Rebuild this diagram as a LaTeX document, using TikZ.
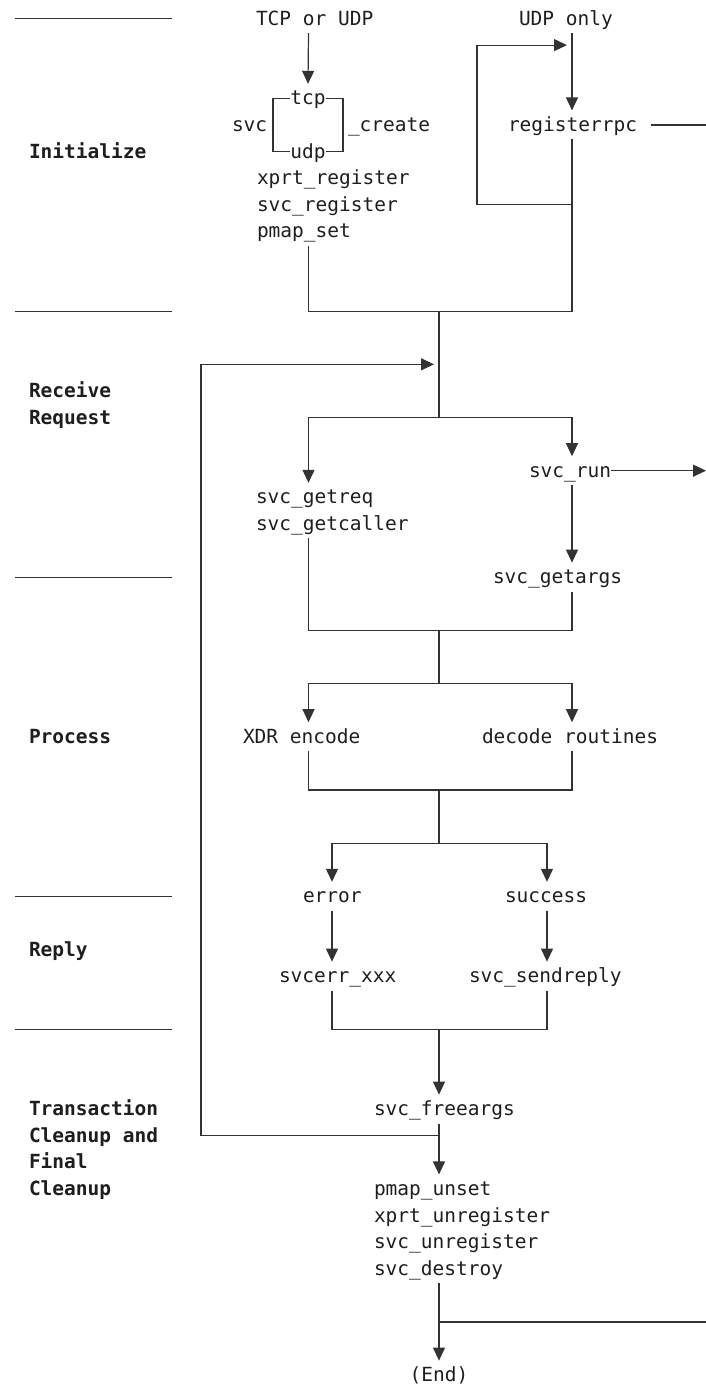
\documentclass[tikz,border=0pt]{standalone}
\usepackage{fontspec}
\newfontfamily\mono{DejaVu Sans Mono}
\usetikzlibrary{arrows.meta}
\definecolor{lncol}{HTML}{333333}
\definecolor{txcol}{HTML}{1E1E1E}
\begin{document}
\begin{tikzpicture}[x=1pt,y=-1pt,
  txt/.style={inner sep=0pt, outer sep=0pt, text height=21pt, text depth=8pt,
              anchor=base west, font=\mono\fontsize{19.5}{20}\selectfont, text=txcol},
  txtc/.style={txt, anchor=base},
  lbl/.style={txt, font=\mono\bfseries\fontsize{19.5}{20}\selectfont},
  sepline/.style={draw=lncol, line width=1.2pt},
  wire/.style={draw=lncol, line width=1.2pt},
  arr/.style={wire, -{Triangle[length=13pt,width=12pt]}}
]
\useasboundingbox (0,0) rectangle (706,1387);

% column coordinates
\coordinate (cA) at (308.5,0);
\coordinate (cR) at (572,0);
\coordinate (cM) at (439,0);
\coordinate (cL) at (308.5,0);
\coordinate (cRt) at (572,0);
\coordinate (cEL) at (332,0);
\coordinate (cER) at (547,0);
\coordinate (bL) at (273,0);
\coordinate (bR) at (343,0);
\coordinate (rEdge) at (706,0);

% section separators
\foreach \yy in {18.5,311.1,577.1,896.3,1029.3}
  \draw[sepline] (15,\yy) -- (172,\yy);

% section labels
\node[lbl] (lInit) at (29,158) {Initialize};
\node[lbl] (lRecv) at (29,397.4) {Receive};
\node[lbl] (lReq) at (29,424) {Request};
\node[lbl] (lProc) at (29,743.2) {Process};
\node[lbl] (lReply) at (29,956) {Reply};
\node[lbl] (lTrans) at (29,1115.6) {Transaction};
\node[lbl] (lClean) at (29,1142.2) {Cleanup and};
\node[lbl] (lFinal) at (29,1168.8) {Final};
\node[lbl] (lClean2) at (29,1195.4) {Cleanup};

% text nodes
\node[txt] (tcpudp) at (256,25) {TCP or UDP};
\node[txt] (udponly) at (519,25) {UDP only};
\node[txtc] (tcp) at (308,104.8) {tcp};
\node[txt] (svc) at (232,131.4) {svc};
\node[txt] (create) at (348,131.4) {\_create};
\node[txt] (registerrpc) at (508,131.4) {registerrpc};
\node[txtc] (udp) at (308,158) {udp};
\node[txt] (xprtreg) at (257,184.6) {xprt\_register};
\node[txt] (svcreg) at (257,211.2) {svc\_register};
\node[txt] (pmapset) at (257,237.8) {pmap\_set};
\node[txt] (svcrun) at (529,477.2) {svc\_run};
\node[txt] (getreq) at (256,503.8) {svc\_getreq};
\node[txt] (getcaller) at (256,530.4) {svc\_getcaller};
\node[txt] (getargs) at (493,583.6) {svc\_getargs};
\node[txt] (xdr) at (243,743.2) {XDR encode};
\node[txt] (decode) at (482,743.2) {decode routines};
\node[txt] (error) at (303,902.8) {error};
\node[txt] (success) at (505,902.8) {success};
\node[txt] (svcerr) at (279,982.6) {svcerr\_xxx};
\node[txt] (sendreply) at (469,982.6) {svc\_sendreply};
\node[txt] (freeargs) at (374,1115.6) {svc\_freeargs};
\node[txt] (pmapunset) at (374,1195.4) {pmap\_unset};
\node[txt] (xprtunreg) at (374,1222) {xprt\_unregister};
\node[txt] (svcunreg) at (374,1248.6) {svc\_unregister};
\node[txt] (destroy) at (374,1275.2) {svc\_destroy};
\node[txtc] (end) at (439,1381.6) {(End)};

% junction coordinates
\coordinate (lpB) at (572,204.7);
\coordinate (lpX) at (477,45.1);
\coordinate (lpT) at (572,45.1);
\coordinate (j1) at (572,311.1);
\coordinate (jm1) at (439,311.1);
\coordinate (bk) at (439,364.3);
\coordinate (bkL) at (201,364.3);
\coordinate (sp1) at (439,417.5);
\coordinate (j2) at (572,630.3);
\coordinate (jm2) at (439,630.3);
\coordinate (sp2) at (439,683.5);
\coordinate (j3) at (572,789.9);
\coordinate (jm3) at (439,789.9);
\coordinate (sp3) at (439,843.1);
\coordinate (j4) at (547,1029.3);
\coordinate (jm4) at (439,1029.3);
\coordinate (lb) at (439,1135.7);
\coordinate (bt) at (439,1321.9);

% Initialize
\draw[arr] (tcpudp.south -| cA) -- (tcp.north);
\draw[wire] (tcp.west) -- (tcp.west -| bL) |- (udp.west);
\draw[wire] (tcp.east) -- (tcp.east -| bR) |- (udp.east);
\draw[arr] (udponly.south -| cR) -- (registerrpc.north -| cR);
\draw[arr] (lpB) -| (lpX) -- ([xshift=-5pt]lpT);
\draw[wire] ([xshift=14pt]registerrpc.east) -- (registerrpc.east -| rEdge);
\draw[wire] (pmapset.south -| cA) |- (j1) -- (registerrpc.south -| cR);
\draw[wire] (jm1) -- (sp1);

% Receive request
\draw[arr] (sp1) -| (getreq.north -| cL);
\draw[arr] (sp1) -| (svcrun.north -| cRt);
\draw[arr] (svcrun.east) -- (svcrun.east -| rEdge);
\draw[arr] (svcrun.south -| cRt) -- (getargs.north -| cRt);
\draw[wire] (getcaller.south -| cL) |- (j2) -- (getargs.south -| cRt);
\draw[wire] (jm2) -- (sp2);

% Process
\draw[arr] (sp2) -| (xdr.north -| cL);
\draw[arr] (sp2) -| (decode.north -| cRt);
\draw[wire] (xdr.south -| cL) |- (j3) -- (decode.south -| cRt);
\draw[wire] (jm3) -- (sp3);

% Reply
\draw[arr] (sp3) -| (error.north -| cEL);
\draw[arr] (sp3) -| (success.north -| cER);
\draw[arr] (error.south -| cEL) -- (svcerr.north -| cEL);
\draw[arr] (success.south -| cER) -- (sendreply.north -| cER);
\draw[wire] (svcerr.south -| cEL) |- (j4) -- (sendreply.south -| cER);

% Cleanup
\draw[arr] (jm4) -- (freeargs.north -| cM);
\draw[arr] (freeargs.south -| cM) -- (pmapunset.north -| cM);
\draw[arr] (lb) -| (bkL) -- ([xshift=-5pt]bk);
\draw[arr] (destroy.south -| cM) -- (end.north);
\draw[wire] (bt) -- (bt -| rEdge);
\end{tikzpicture}
\end{document}
